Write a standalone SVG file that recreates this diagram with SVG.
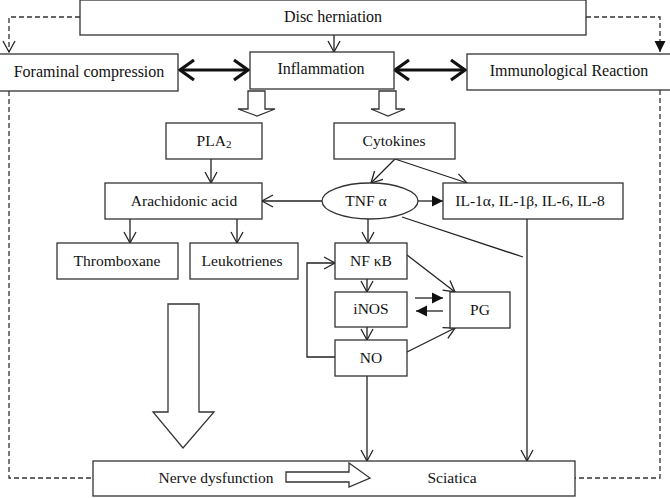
<svg xmlns="http://www.w3.org/2000/svg" width="670" height="498" viewBox="0 0 670 498">
<style>
.box{fill:#fff;stroke:#333;stroke-width:1.3}
.t{font-family:"Liberation Serif","Times New Roman",serif;font-size:15.5px;fill:#111;text-anchor:middle}
.big{font-size:16px}
.ln{fill:none;stroke:#222;stroke-width:1.3}
.dash{fill:none;stroke:#333;stroke-width:1.3;stroke-dasharray:5,3}
.bold{fill:none;stroke:#111;stroke-width:3.2}
.hollow{fill:#fff;stroke:#333;stroke-width:1.3}
</style>
<defs>
<marker id="open" markerUnits="userSpaceOnUse" markerWidth="14" markerHeight="14" viewBox="0 0 14 14" refX="12" refY="7" orient="auto">
<path d="M1,1 L12,7 L1,13" fill="none" stroke="#222" stroke-width="1.3"/>
</marker>
<marker id="fill" markerUnits="userSpaceOnUse" markerWidth="12" markerHeight="12" viewBox="0 0 12 12" refX="11" refY="6" orient="auto">
<path d="M0,0.5 L11,6 L0,11.5 z" fill="#111"/>
</marker>
<marker id="boldv" markerUnits="userSpaceOnUse" markerWidth="20" markerHeight="24" viewBox="0 0 20 24" refX="17" refY="12" orient="auto-start-reverse">
<path d="M3,2 L17,12 L3,22" fill="none" stroke="#111" stroke-width="3.2"/>
</marker>
</defs>

<g id="connectors">
<path class="dash" d="M80,17 H9 V52" marker-end="url(#open)"/>
<path class="dash" d="M586,17 H660 V52" marker-end="url(#fill)"/>
<path class="dash" d="M9,91 V478 H93"/>
<path class="dash" d="M660,90 V478 H575"/>
<path class="ln" d="M334,35 V52" marker-end="url(#open)"/>
<path class="bold" d="M180,70 H248" marker-start="url(#boldv)" marker-end="url(#boldv)"/>
<path class="bold" d="M395,70 H465" marker-start="url(#boldv)" marker-end="url(#boldv)"/>
<polygon class="hollow" points="248,91 265,91 265,109 275,109 257,116 238,109 248,109"/>
<polygon class="hollow" points="379,91 396,91 396,109 405,109 388,116 371,109 379,109"/>
<path class="ln" d="M211,159 V183" marker-end="url(#open)"/>
<path class="ln" d="M130,219 V243" marker-end="url(#open)"/>
<path class="ln" d="M237,219 V243" marker-end="url(#open)"/>
<path class="ln" d="M395,159 L371,183" marker-end="url(#open)"/>
<path class="ln" d="M395,159 L467,183" marker-end="url(#open)"/>
<path class="ln" d="M322,201 H262" marker-end="url(#open)"/>
<path class="ln" d="M418,201 H443" marker-end="url(#fill)"/>
<path class="ln" d="M402,217 L523,257"/>
<path class="ln" d="M368,219 V243" marker-end="url(#open)"/>
<path class="ln" d="M367,279 V292" marker-end="url(#open)"/>
<path class="ln" d="M367,327 V340" marker-end="url(#open)"/>
<path class="ln" d="M335,357 H307 V263 H335" marker-end="url(#open)"/>
<path class="ln" d="M407,255 L455,292" marker-end="url(#open)"/>
<path class="ln" d="M407,352 L455,328" marker-end="url(#open)"/>
<path class="ln" d="M415,298 H443" marker-end="url(#fill)"/>
<path class="ln" d="M443,311 H416" marker-end="url(#fill)"/>
<path class="ln" d="M367,376 V461" marker-end="url(#open)"/>
<path class="ln" d="M527,219 V461" marker-end="url(#open)"/>
<polygon class="hollow" points="168,304 199,304 199,412 214,412 183,448 153,412 168,412"/>
</g>

<g id="disc-herniation">
<rect class="box" x="80" y="0" width="506" height="35"/>
<text class="t big" x="333" y="22">Disc herniation</text>
</g>
<g id="foraminal-compression">
<rect class="box" x="-2" y="54" width="180" height="37"/>
<text class="t big" x="89" y="77">Foraminal compression</text>
</g>
<g id="inflammation">
<rect class="box" x="250" y="52" width="144" height="37"/>
<text class="t big" x="321" y="74">Inflammation</text>
</g>
<g id="immunological-reaction">
<rect class="box" x="467" y="54" width="206" height="36"/>
<text class="t big" x="569" y="76">Immunological Reaction</text>
</g>
<g id="pla2">
<rect class="box" x="166" y="123" width="96" height="36"/>
<text class="t" x="214" y="146">PLA<tspan font-size="11" dy="2">2</tspan></text>
</g>
<g id="cytokines">
<rect class="box" x="334" y="123" width="121" height="36"/>
<text class="t" x="394" y="146">Cytokines</text>
</g>
<g id="arachidonic-acid">
<rect class="box" x="105" y="183" width="157" height="36"/>
<text class="t" x="184" y="206">Arachidonic acid</text>
</g>
<g id="tnf-alpha">
<ellipse class="box" cx="370" cy="201" rx="48" ry="18"/>
<text class="t" x="366" y="206">TNF α</text>
</g>
<g id="interleukins">
<rect class="box" x="443" y="183" width="180" height="36"/>
<text class="t" x="530" y="206">IL-1α, IL-1β, IL-6, IL-8</text>
</g>
<g id="thromboxane">
<rect class="box" x="57" y="243" width="121" height="36"/>
<text class="t" x="117" y="266">Thromboxane</text>
</g>
<g id="leukotrienes">
<rect class="box" x="190" y="243" width="108" height="36"/>
<text class="t" x="242" y="266">Leukotrienes</text>
</g>
<g id="nfkb">
<rect class="box" x="335" y="243" width="72" height="36"/>
<text class="t" x="371" y="266">NF κB</text>
</g>
<g id="inos">
<rect class="box" x="335" y="292" width="72" height="35"/>
<text class="t" x="371" y="314">iNOS</text>
</g>
<g id="no">
<rect class="box" x="335" y="340" width="72" height="36"/>
<text class="t" x="371" y="363">NO</text>
</g>
<g id="pg">
<rect class="box" x="450" y="292" width="60" height="36"/>
<text class="t" x="480" y="315">PG</text>
</g>
<g id="sciatica-box">
<rect class="box" x="93" y="461" width="482" height="35"/>
<text class="t" x="216" y="483">Nerve dysfunction</text>
<polygon class="hollow" points="286,472 349,472 349,463 370,478 349,487 349,482 286,482"/>
<text class="t" x="452" y="483">Sciatica</text>
</g>
</svg>
